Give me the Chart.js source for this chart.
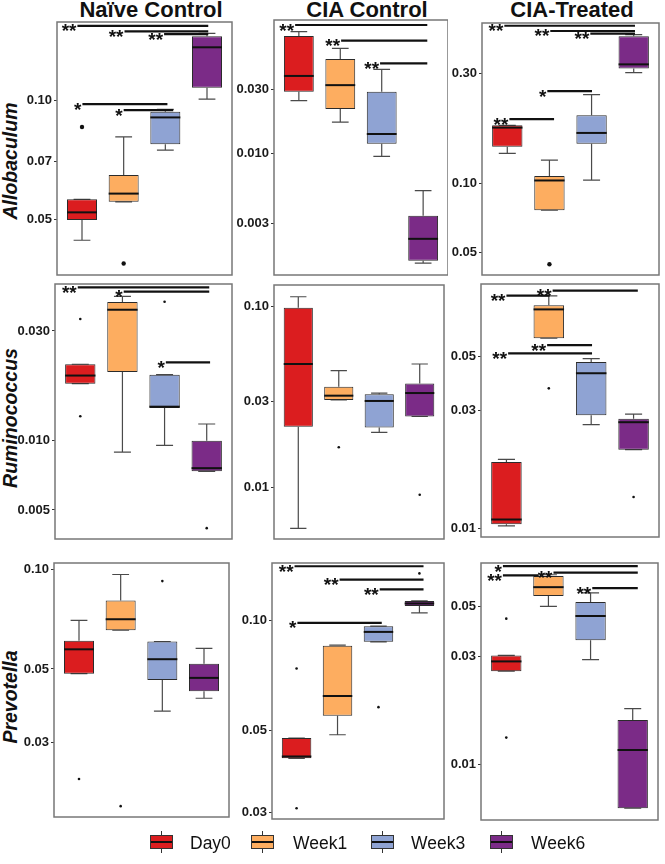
<!DOCTYPE html>
<html>
<head>
<meta charset="utf-8">
<script src="https://cdn.jsdelivr.net/npm/chart.js@4.4.0/dist/chart.umd.min.js"></script>
<style>
  body { margin: 0; background: #fff; width: 665px; height: 864px; position: relative; overflow: hidden;
         font-family: "Liberation Sans", Arial, sans-serif; color: #111; }
  .panel { position: absolute; }
  .coltitle { position: absolute; top: -2px; font-weight: bold; font-size: 22px; line-height: 24px;
              white-space: nowrap; transform: translateX(-50%); }
  .rowlabel { position: absolute; left: 10px; font-weight: bold; font-style: italic; font-size: 19.5px;
              line-height: 20px; white-space: nowrap; transform: translate(-50%, -50%) rotate(-90deg); }
  .lg { position: absolute; top: 831px; width: 23px; height: 22px; }
  .lg .tail { position: absolute; left: 11px; width: 1.3px; height: 4px; background: #333; }
  .lg .box { position: absolute; left: 0; top: 4px; width: 23px; height: 14px; box-sizing: border-box; border: 1px solid #333; }
  .lg .med { position: absolute; left: 0; right: 0; top: 5px; height: 2px; background: #111; }
  .lgtext { position: absolute; top: 833px; font-size: 17.5px; line-height: 20px; }
</style>
</head>
<body>
<div class="coltitle" style="left:151px">Naïve Control</div>
<div class="coltitle" style="left:367px">CIA Control</div>
<div class="coltitle" style="left:572px">CIA-Treated</div>
<div class="rowlabel" style="top:161px">Allobaculum</div>
<div class="rowlabel" style="top:418px">Ruminococcus</div>
<div class="rowlabel" style="top:697px">Prevotella</div>

<script>
const groups = ['Day0', 'Week1', 'Week3', 'Week6'];
const boxColors = ['#db1d1f', '#fdad60', '#8fa3d3', '#7b2b87'];

// each box: [lower whisker, q1, median, q3, upper whisker]
// outliers: [group number, value]; significance: [from, to, value, label]

// Allobaculum
const alloNaive = [[0.0442, 0.0497, 0.0520, 0.0561, 0.0561], [0.0553, 0.0553, 0.0580, 0.0646, 0.0807],
                   [0.0747, 0.0773, 0.0904, 0.0934, 0.0947], [0.1006, 0.1074, 0.1360, 0.1450, 0.1475]];
const alloNaiveOut = [[1, 0.0855], [2, 0.0386]];
const alloNaiveSig = [[0.89, 4.03, 0.1541, '**'], [2.02, 4.03, 0.1493, '**'], [2.97, 4.03, 0.1469, '**'],
                      [1.01, 3.05, 0.0977, '*'], [2.0, 3.19, 0.0943, '*']];
const alloNaiveTicks = [0.05, 0.07, 0.10];
const alloNaiveLabels = ['0.05', '0.07', '0.10'];

const alloCia = [[0.0246, 0.0286, 0.0376, 0.0747, 0.0804], [0.0170, 0.0213, 0.0321, 0.0503, 0.0604],
                 [0.00945, 0.01173, 0.01387, 0.0286, 0.0421], [0.00151, 0.00157, 0.00229, 0.0034, 0.00524]];
const alloCiaOut = [];
const alloCiaSig = [[0.91, 4.10, 0.0902, '**'], [2.02, 4.10, 0.0689, '**'], [2.96, 4.10, 0.0467, '**']];
const alloCiaTicks = [0.003, 0.01, 0.03];
const alloCiaLabels = ['0.003', '0.010', '0.030'];

const alloTreated = [[0.1345, 0.1436, 0.174, 0.178, 0.178], [0.0763, 0.0763, 0.1027, 0.1075, 0.1259],
                     [0.103, 0.148, 0.165, 0.197, 0.242], [0.301, 0.314, 0.327, 0.433, 0.440]];
const alloTreatedOut = [[2, 0.0445]];
const alloTreatedSig = [[0.93, 4.03, 0.4806, '**'], [2.02, 4.03, 0.4562, '**'], [2.97, 4.03, 0.4446, '**'],
                        [1.95, 3.01, 0.2502, '*'], [1.05, 2.11, 0.1892, '**']];
const alloTreatedTicks = [0.05, 0.10, 0.30];
const alloTreatedLabels = ['0.05', '0.10', '0.30'];

// Ruminococcus
const rumiNaive = [[0.0177, 0.0177, 0.0192, 0.0215, 0.0215], [0.00893, 0.0199, 0.0371, 0.0401, 0.0424],
                   [0.00954, 0.01386, 0.01406, 0.01936, 0.01936], [0.00736, 0.00736, 0.0076, 0.0100, 0.01182]];
const rumiNaiveOut = [[1, 0.0338], [1, 0.01277], [3, 0.0402], [4, 0.00417]];
const rumiNaiveSig = [[0.94, 4.06, 0.04639, '**'], [2.03, 4.06, 0.04446, '*'], [3.03, 4.08, 0.02189, '*']];
const rumiNaiveTicks = [0.005, 0.01, 0.03];
const rumiNaiveLabels = ['0.005', '0.010', '0.030'];

const rumiCia = [[0.00594, 0.0217, 0.0482, 0.0987, 0.1135], [0.0305, 0.0305, 0.0322, 0.0361, 0.0443],
                 [0.0202, 0.0215, 0.0301, 0.0328, 0.0333], [0.0247, 0.0247, 0.0333, 0.0376, 0.0482]];
const rumiCiaOut = [[2, 0.0167], [4, 0.00912]];
const rumiCiaSig = [];
const rumiCiaTicks = [0.01, 0.03, 0.10];
const rumiCiaLabels = ['0.01', '0.03', '0.10'];

const rumiTreated = [[0.01028, 0.01045, 0.01091, 0.01866, 0.0191], [0.0590, 0.0590, 0.0772, 0.0803, 0.0875],
                     [0.0264, 0.0288, 0.0426, 0.0473, 0.0488], [0.0209, 0.0209, 0.0270, 0.0279, 0.0291]];
const rumiTreatedOut = [[2, 0.037], [4, 0.01346]];
const rumiTreatedSig = [[2.09, 4.10, 0.0919, '**'], [1.0, 2.02, 0.08771, '**'],
                        [1.96, 3.02, 0.05538, '**'], [1.04, 3.02, 0.05127, '**']];
const rumiTreatedTicks = [0.01, 0.03, 0.05];
const rumiTreatedLabels = ['0.01', '0.03', '0.05'];

// Prevotella
const prevNaive = [[0.0484, 0.0484, 0.0573, 0.0608, 0.0700], [0.0654, 0.0654, 0.0706, 0.0804, 0.0963],
                   [0.0373, 0.0463, 0.0535, 0.0605, 0.0605], [0.0408, 0.0428, 0.0470, 0.0518, 0.0577]];
const prevNaiveOut = [[1, 0.0233], [2, 0.0193], [3, 0.092]];
const prevNaiveSig = [];
const prevNaiveTicks = [0.03, 0.05, 0.10];
const prevNaiveLabels = ['0.03', '0.05', '0.10'];

const prevCia = [[0.0421, 0.0421, 0.0426, 0.0478, 0.0478], [0.0488, 0.0550, 0.0622, 0.0852, 0.0855],
                 [0.0873, 0.0873, 0.0929, 0.0963, 0.0963], [0.1047, 0.1092, 0.1110, 0.1128, 0.1128]];
const prevCiaOut = [[1, 0.0739], [1, 0.0308], [3, 0.058], [4, 0.134]];
const prevCiaSig = [[0.95, 4.10, 0.1401, '**'], [2.05, 4.10, 0.1289, '**'], [3.03, 4.10, 0.1212, '**'],
                    [1.02, 3.08, 0.09833, '*']];
const prevCiaTicks = [0.03, 0.05, 0.10];
const prevCiaLabels = ['0.03', '0.05', '0.10'];

const prevTreated = [[0.0258, 0.0258, 0.0285, 0.0303, 0.0303], [0.0500, 0.0555, 0.0608, 0.0681, 0.0690],
                     [0.0290, 0.0354, 0.0453, 0.0522, 0.0573], [0.00637, 0.00637, 0.01154, 0.01566, 0.0176]];
const prevTreatedOut = [[1, 0.0441], [1, 0.0131]];
const prevTreatedSig = [[0.92, 4.12, 0.07539, '*'], [0.92, 1.77, 0.06855, '**'], [2.12, 4.12, 0.07048, '**'],
                        [3.04, 4.12, 0.06022, '**']];
const prevTreatedTicks = [0.01, 0.03, 0.05];
const prevTreatedLabels = ['0.01', '0.03', '0.05'];

const panels = [
  { rect: [57, 22, 236, 275], range: [0.0361, 0.1576], dot: 2.2, stats: alloNaive, out: alloNaiveOut, sig: alloNaiveSig, ticks: alloNaiveTicks, labels: alloNaiveLabels },
  { rect: [274, 20, 448, 275], range: [0.00123, 0.0983], dot: 2.2, stats: alloCia, out: alloCiaOut, sig: alloCiaSig, ticks: alloCiaTicks, labels: alloCiaLabels },
  { rect: [482, 23, 663, 275], range: [0.040, 0.494], dot: 2.2, stats: alloTreated, out: alloTreatedOut, sig: alloTreatedSig, ticks: alloTreatedTicks, labels: alloTreatedLabels },
  { rect: [55, 284, 236, 539], range: [0.00374, 0.048], dot: 1.3, stats: rumiNaive, out: rumiNaiveOut, sig: rumiNaiveSig, ticks: rumiNaiveTicks, labels: rumiNaiveLabels },
  { rect: [274, 285, 448, 539], range: [0.00519, 0.1318], dot: 1.3, stats: rumiCia, out: rumiCiaOut, sig: rumiCiaSig, ticks: rumiCiaTicks, labels: rumiCiaLabels },
  { rect: [481, 284, 663, 537], range: [0.00927, 0.0978], dot: 1.3, stats: rumiTreated, out: rumiTreatedOut, sig: rumiTreatedSig, ticks: rumiTreatedTicks, labels: rumiTreatedLabels },
  { rect: [54, 563, 233, 817], range: [0.0179, 0.1043], dot: 1.3, stats: prevNaive, out: prevNaiveOut, sig: prevNaiveSig, ticks: prevNaiveTicks, labels: prevNaiveLabels },
  { rect: [272, 563, 448, 819], range: [0.0288, 0.143], dot: 1.3, stats: prevCia, out: prevCiaOut, sig: prevCiaSig, ticks: prevCiaTicks, labels: prevCiaLabels },
  { rect: [481, 563, 662, 820], range: [0.00565, 0.0778], dot: 1.3, stats: prevTreated, out: prevTreatedOut, sig: prevTreatedSig, ticks: prevTreatedTicks, labels: prevTreatedLabels }
];

// whiskers, medians, significance bars and the panel frame
function boxPlugin(p) {
  return {
    id: 'boxExtras',
    beforeDatasetsDraw(chart) {
      const { ctx, scales: { x, y } } = chart;
      const bars = chart.getDatasetMeta(0).data;
      ctx.save();
      ctx.strokeStyle = '#4a4a4a';
      ctx.lineWidth = 1.2;
      p.stats.forEach((s, i) => {
        const cx = x.getPixelForValue(i + 1);
        const cap = bars[i].width * 0.28;
        ctx.beginPath();
        ctx.moveTo(cx, y.getPixelForValue(s[0]));
        ctx.lineTo(cx, y.getPixelForValue(s[1]));
        ctx.moveTo(cx, y.getPixelForValue(s[3]));
        ctx.lineTo(cx, y.getPixelForValue(s[4]));
        [s[0], s[4]].forEach(v => {
          const py = y.getPixelForValue(v);
          ctx.moveTo(cx - cap, py);
          ctx.lineTo(cx + cap, py);
        });
        ctx.stroke();
      });
      ctx.restore();
    },
    afterDatasetsDraw(chart) {
      const { ctx, scales: { x, y } } = chart;
      const bars = chart.getDatasetMeta(0).data;
      ctx.save();
      ctx.strokeStyle = '#111';
      ctx.lineWidth = 2;
      p.stats.forEach((s, i) => {
        const cx = x.getPixelForValue(i + 1);
        const hw = bars[i].width / 2;
        const py = y.getPixelForValue(s[2]);
        ctx.beginPath();
        ctx.moveTo(cx - hw, py);
        ctx.lineTo(cx + hw, py);
        ctx.stroke();
      });
      ctx.lineWidth = 2.2;
      ctx.fillStyle = '#111';
      ctx.font = 'bold 19px "Liberation Sans", Arial';
      ctx.textAlign = 'right';
      p.sig.forEach(([a, b, v, lab]) => {
        const py = y.getPixelForValue(v);
        const x1 = x.getPixelForValue(a);
        ctx.beginPath();
        ctx.moveTo(x1, py);
        ctx.lineTo(x.getPixelForValue(b), py);
        ctx.stroke();
        ctx.fillText(lab, x1 - 1, py + 11.5);
      });
      ctx.restore();
    },
    afterDraw(chart) {
      const { ctx, chartArea: a } = chart;
      ctx.save();
      ctx.strokeStyle = '#777';
      ctx.lineWidth = 1.5;
      ctx.strokeRect(a.left, a.top, a.right - a.left, a.bottom - a.top);
      ctx.restore();
    }
  };
}

function makeChart(p) {
  const [l, t, r, b] = p.rect;
  const axisW = 48, pad = 12;
  const div = document.createElement('div');
  div.className = 'panel';
  div.style.left = (l - axisW) + 'px';
  div.style.top = (t - pad) + 'px';
  div.style.width = (r - l + axisW) + 'px';
  div.style.height = (b - t + 2 * pad) + 'px';
  const cv = document.createElement('canvas');
  div.appendChild(cv);
  document.body.appendChild(div);

  new Chart(cv, {
    type: 'bar',
    data: {
      datasets: [
        {
          type: 'bar',
          data: p.stats.map((s, i) => ({ x: i + 1, y: [s[1], s[3]] })),
          backgroundColor: boxColors,
          borderColor: '#2b2b2b',
          borderWidth: 1,
          borderSkipped: false,
          barPercentage: 0.9,
          categoryPercentage: 0.8,
          order: 2
        },
        {
          type: 'scatter',
          data: p.out.map(o => ({ x: o[0], y: o[1] })),
          pointRadius: p.dot,
          pointBackgroundColor: '#111',
          pointBorderWidth: 0,
          order: 1
        }
      ]
    },
    options: {
      responsive: true,
      maintainAspectRatio: false,
      animation: false,
      layout: { padding: { top: pad, bottom: pad, left: 0, right: 0 } },
      plugins: { legend: { display: false }, tooltip: { enabled: false } },
      scales: {
        x: {
          type: 'linear', min: 0.4, max: 4.6, offset: false, display: false,
          afterBuildTicks: s => { s.ticks = groups.map((g, i) => ({ value: i + 1 })); }
        },
        y: {
          type: 'logarithmic', min: p.range[0], max: p.range[1], bounds: 'data',
          afterFit: s => { s.width = axisW; },
          afterBuildTicks: s => { s.ticks = p.ticks.map(v => ({ value: v })); },
          ticks: {
            autoSkip: false, padding: 2, color: '#1a1a1a',
            font: { family: '"Liberation Sans", Arial', weight: 'bold', size: 13 },
            callback: (v, i) => p.labels[i]
          },
          grid: { drawOnChartArea: false, drawTicks: true, tickLength: 3, color: '#333' },
          border: { display: false }
        }
      }
    },
    plugins: [boxPlugin(p)]
  });
}

panels.forEach(makeChart);

// legend
const legendIconX = [150, 251, 371, 490];
const legendTextX = [190, 293, 411, 531];
groups.forEach((g, i) => {
  const icon = document.createElement('div');
  icon.className = 'lg';
  icon.style.left = legendIconX[i] + 'px';
  icon.innerHTML = '<div class="tail" style="top:0"></div>' +
    '<div class="box" style="background:' + boxColors[i] + '"><div class="med"></div></div>' +
    '<div class="tail" style="top:18px"></div>';
  document.body.appendChild(icon);
  const txt = document.createElement('span');
  txt.className = 'lgtext';
  txt.style.left = legendTextX[i] + 'px';
  txt.textContent = g;
  document.body.appendChild(txt);
});
</script>
</body>
</html>
